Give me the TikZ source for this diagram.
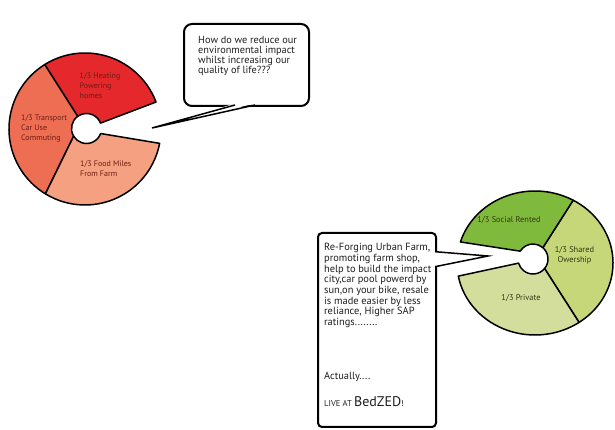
\documentclass[tikz,border=0pt]{standalone}
\usepackage{fontspec}
\setmainfont{PT Sans}
\usetikzlibrary{calc}
\definecolor{heat}{RGB}{228,40,44}
\definecolor{trans}{RGB}{238,110,84}
\definecolor{food}{RGB}{245,160,128}
\definecolor{social}{RGB}{128,186,60}
\definecolor{shared}{RGB}{198,215,122}
\definecolor{private}{RGB}{212,222,156}
\definecolor{redtxt}{RGB}{110,28,20}
\definecolor{greentxt}{RGB}{50,55,18}
\definecolor{bodytxt}{RGB}{30,30,30}
\begin{document}
\begin{tikzpicture}[x=1pt,y=1pt,
  seg/.style={draw=black, line width=1.5pt, line join=round},
  bubble/.style={draw=black, line width=2pt, fill=white, inner sep=0pt},
  tail/.style={draw=black, line width=1.5pt, line join=miter},
  redlbl/.style={inner sep=0pt, align=left, text=redtxt, font=\fontsize{8}{10}\selectfont},
  greenlbl/.style={inner sep=0pt, align=center, text=greentxt, font=\fontsize{8.4}{10.5}\selectfont},
  bodytext/.style={inner sep=0pt, anchor=north west, align=left, text=bodytxt}]
\useasboundingbox (0,0) rectangle (615,430);
% ---------- left pie ----------
\coordinate (CL) at (85,301);
\coordinate (HL) at (86.5,301.5);
\draw[seg, fill=heat] ($(CL)+(20.8:76pt)$) arc[start angle=20.8, end angle=122, radius=76pt]
  -- ($(HL)+(126:15pt)$) arc[start angle=126, end angle=21, radius=15pt] -- cycle;
\draw[seg, fill=trans] ($(CL)+(122:76pt)$) arc[start angle=122, end angle=238.6, radius=76pt]
  -- ($(HL)+(211:15pt)$) arc[start angle=211, end angle=126, radius=15pt] -- cycle;
\draw[seg, fill=food] ($(CL)+(238.6:76pt)$) arc[start angle=238.6, end angle=349.1, radius=76pt]
  -- ($(HL)+(340.4:15pt)$) arc[start angle=340.4, end angle=211, radius=15pt] -- cycle;
\node[redlbl, anchor=north west] (heatlbl) at (79.5,357) {1/3 Heating\\Powering\\homes};
\node[redlbl, anchor=north west] (translbl) at (21,315.5) {1/3 Transport\\Car Use\\Commuting};
\node[redlbl, anchor=north west] (foodlbl) at (80,269) {1/3 Food Miles\\From Farm};
% ---------- right pie ----------
\coordinate (CR) at (535,167);
\coordinate (HR) at (533,171);
\draw[seg, fill=shared] ($(CR)+(-55.6:78pt and 72pt)$) arc[start angle=-55.6, end angle=60.7, x radius=78pt, y radius=72pt]
  -- ($(HR)+(49:15pt)$) arc[start angle=49, end angle=-39.5, radius=15pt] -- cycle;
\draw[seg, fill=social] ($(CR)+(60.7:78pt and 72pt)$) arc[start angle=60.7, end angle=163, x radius=78pt, y radius=72pt]
  -- ($(HR)+(148.5:15pt)$) arc[start angle=148.5, end angle=49, radius=15pt] -- cycle;
\draw[seg, fill=private] ($(CR)+(190.5:78pt and 72pt)$) arc[start angle=190.5, end angle=304.4, x radius=78pt, y radius=72pt]
  -- ($(HR)+(320.5:15pt)$) arc[start angle=320.5, end angle=196, radius=15pt] -- cycle;
\node[greenlbl] (sociallbl) at (509,209.5) {1/3 Social Rented};
\node[greenlbl] (sharedlbl) at (574.5,174.5) {1/3 Shared\\Owership};
\node[greenlbl] (privatelbl) at (521,131.5) {1/3 Private};
% ---------- top speech bubble ----------
\node[bubble, rounded corners=8pt, minimum width=125pt, minimum height=82pt, anchor=north west] (q) at (183,407) {};
\coordinate (qa) at (235,325);
\coordinate (qb) at (255,325);
\coordinate (qtip) at (152,302);
\fill[white] ($(qa)+(0,1.5)$) -- (qtip) -- ($(qb)+(0,1.5)$) -- cycle;
\draw[tail] (qa) -- (qtip) -- (qb);
\node[bodytext, font=\fontsize{10.3}{10}\selectfont] (qtext) at (198,393.5) {How do we reduce our\\environmental impact\\whilst increasing our\\quality of life???};
% ---------- bottom speech box ----------
\node[bubble, rounded corners=4pt, minimum width=118pt, minimum height=194pt, anchor=north west] (b) at (317,198) {};
\coordinate (ba) at (435,178.3);
\coordinate (bb) at (435,163.3);
\coordinate (btip) at (488,174);
\fill[white] ($(ba)+(-1.5,0)$) -- (btip) -- ($(bb)+(-1.5,0)$) -- cycle;
\draw[tail] (ba) -- (btip) -- (bb);
\node[bodytext, font=\fontsize{10.4}{10.7}\selectfont] (btext) at (324,186.8) {Re-Forging Urban Farm,\\promoting farm shop,\\help to build the impact\\city,car pool powerd by\\sun,on your bike, resale\\is made easier by less\\reliance, Higher SAP\\ratings........};
\node[bodytext, font=\fontsize{10.4}{10.7}\selectfont] (actually) at (324,58) {Actually....};
\node[inner sep=0pt, anchor=base west, text=bodytxt] (live) at (324,23.3) {\fontsize{8.5}{10}\selectfont LIVE AT \fontsize{14}{14}\selectfont BedZED\fontsize{8.5}{10}\selectfont !};
\end{tikzpicture}
\end{document}
